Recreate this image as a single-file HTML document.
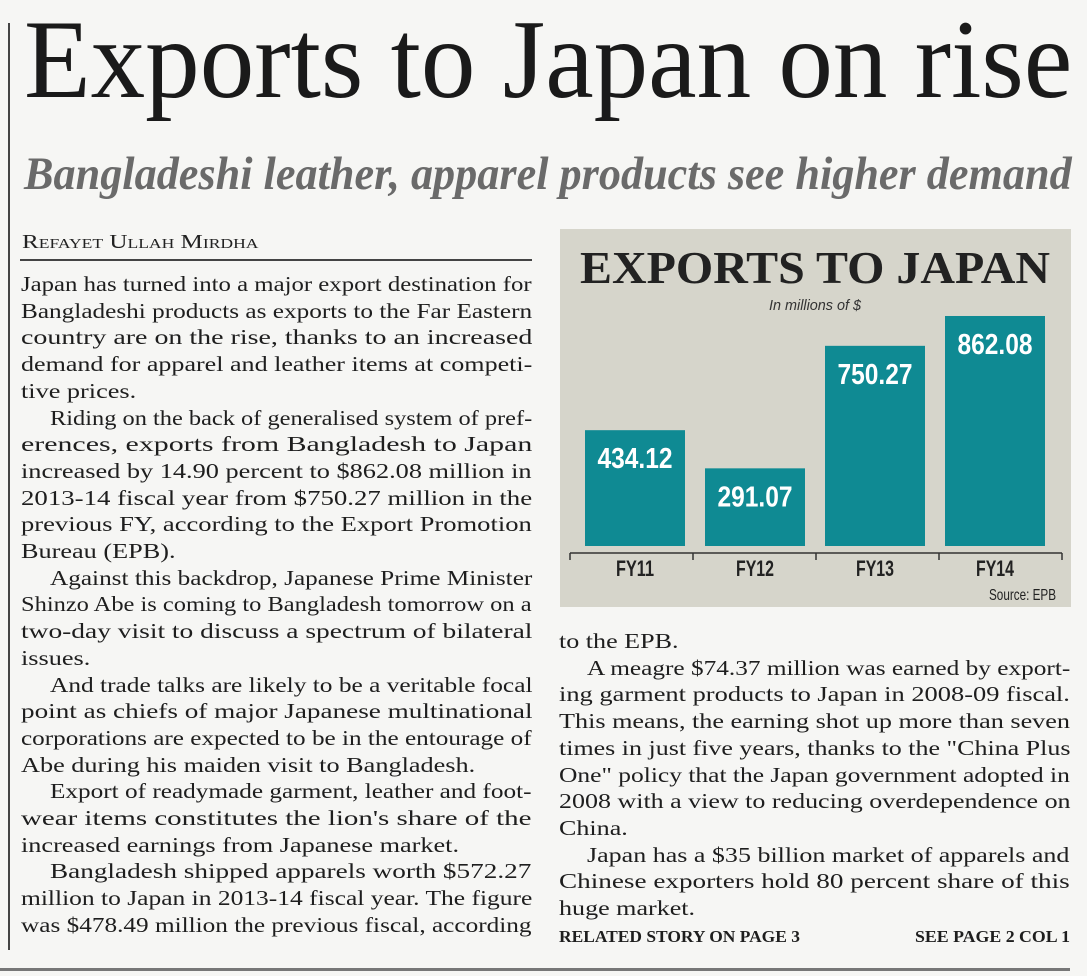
<!DOCTYPE html>
<html><head><meta charset="utf-8">
<style>
html,body{margin:0;padding:0;}
body{width:1087px;height:976px;position:relative;background:#f6f6f4;overflow:hidden;font-family:"Liberation Serif",serif;color:#1e1e1e;}
.abs{position:absolute;white-space:nowrap;transform-origin:0 0;}
.ln{position:absolute;white-space:nowrap;transform-origin:0 0;font-size:21px;line-height:26px;}
</style></head>
<body>
<div class="abs" style="left:8px;top:23px;width:1.5px;height:927px;background:#444"></div>
<div class="abs" style="left:0;top:968px;width:1070px;height:3px;background:#777"></div>

<div class="abs fit" data-w="1048" style="left:24px;top:0px;font-size:112px;line-height:120px;color:#1a1a1a">Exports to Japan on rise</div>
<div class="abs fit" data-w="1048" style="left:24px;top:147px;font-size:47px;line-height:54px;font-style:italic;font-weight:bold;color:#6a6a6a">Bangladeshi leather, apparel products see higher demand</div>
<div class="abs fit" data-w="237" style="left:22px;top:231px;font-size:20px;line-height:22px;font-variant:small-caps;color:#222">Refayet Ullah Mirdha</div>
<div class="abs" style="left:20px;top:259px;width:512px;height:2px;background:#444"></div>

<div id="left"></div>
<div id="right"></div>

<div class="abs fit" data-w="241" style="left:559px;top:927px;font-size:17px;font-weight:bold;line-height:20px">RELATED STORY ON PAGE 3</div>
<div class="abs fit" data-w="155" style="left:915px;top:927px;font-size:17px;font-weight:bold;line-height:20px">SEE PAGE 2 COL 1</div>

<div class="abs" style="left:560px;top:229px;width:511px;height:378px;background:#d6d5cb">
<svg id="chart" width="511" height="378" style="position:absolute;left:0;top:0"></svg>
</div>

<script>
const categories=["FY11","FY12","FY13","FY14"];
const values=[434.12,291.07,750.27,862.08];
const valueLabels=["434.12","291.07","750.27","862.08"];

const left=[
["Japan has turned into a major export destination for",1,0],
["Bangladeshi products as exports to the Far Eastern",1,0],
["country are on the rise, thanks to an increased",1,0],
["demand for apparel and leather items at competi-",1,0],
["tive prices.",0,0],
["Riding on the back of generalised system of pref-",1,1],
["erences, exports from Bangladesh to Japan",1,0],
["increased by 14.90 percent to $862.08 million in",1,0],
["2013-14 fiscal year from $750.27 million in the",1,0],
["previous FY, according to the Export Promotion",1,0],
["Bureau (EPB).",0,0],
["Against this backdrop, Japanese Prime Minister",1,1],
["Shinzo Abe is coming to Bangladesh tomorrow on a",1,0],
["two-day visit to discuss a spectrum of bilateral",1,0],
["issues.",0,0],
["And trade talks are likely to be a veritable focal",1,1],
["point as chiefs of major Japanese multinational",1,0],
["corporations are expected to be in the entourage of",1,0],
["Abe during his maiden visit to Bangladesh.",0,0],
["Export of readymade garment, leather and foot-",1,1],
["wear items constitutes the lion's share of the",1,0],
["increased earnings from Japanese market.",0,0],
["Bangladesh shipped apparels worth $572.27",1,1],
["million to Japan in 2013-14 fiscal year. The figure",1,0],
["was $478.49 million the previous fiscal, according",1,0]];
const right=[
["to the EPB.",0,0],
["A meagre $74.37 million was earned by export-",1,1],
["ing garment products to Japan in 2008-09 fiscal.",1,0],
["This means, the earning shot up more than seven",1,0],
["times in just five years, thanks to the \"China Plus",1,0],
["One\" policy that the Japan government adopted in",1,0],
["2008 with a view to reducing overdependence on",1,0],
["China.",0,0],
["Japan has a $35 billion market of apparels and",1,1],
["Chinese exporters hold 80 percent share of this",1,0],
["huge market.",0,0]];

function col(id,lines,x0,x1,indent,y0){
  const c=document.getElementById(id);const els=[];let sum=0,n=0;
  lines.forEach((l,i)=>{
    const d=document.createElement('div');d.className='ln';
    
    
    d.textContent=l[0];
    const x=x0+(l[2]?indent:0);
    d.style.left=x+'px';d.style.top=(y0+i*26.7-14)+'px';
    c.appendChild(d);els.push([d,l,x1-x]);
  });
  els.forEach(([d,l,w])=>{if(l[1]){const s=w/d.scrollWidth;sum+=s;n++;}});
  const avg=n?sum/n:0.9;
  els.forEach(([d,l,w])=>{const s=l[1]?w/d.scrollWidth:avg;d.style.transform='scaleX('+s+')';});
}
col('left',left,21,532,29,285);
col('right',right,559,1070,28,642);

document.querySelectorAll('.fit').forEach(e=>{const s=(+e.dataset.w)/e.scrollWidth;e.style.transform='scaleX('+s+')';});

// chart
const NS="http://www.w3.org/2000/svg";
const svg=document.getElementById('chart');
const baseY=317, pxPerUnit=0.2668, x0=25, slot=120, bw=100;
const SANS='Liberation Sans, sans-serif';
function yPos(v){return baseY-v*pxPerUnit;}
function xPos(i){return x0+i*slot;}
function mk(t,a,name){const e=document.createElementNS(NS,t);for(const k in a)e.setAttribute(k,a[k]);
  
  
  svg.appendChild(e);return e;}
const title=mk('text',{x:255,y:54,'text-anchor':'middle','font-family':'Liberation Serif, serif','font-weight':'bold','font-size':46,fill:'#222',textLength:470,lengthAdjust:'spacingAndGlyphs'},'chart-title');
title.textContent='EXPORTS TO JAPAN';
const sub=mk('text',{x:255,y:81,'text-anchor':'middle','font-family':SANS,'font-style':'italic','font-size':15,fill:'#333',textLength:92,lengthAdjust:'spacingAndGlyphs'},'chart-subtitle');
sub.textContent='In millions of $';
values.forEach((v,i)=>{
  mk('rect',{x:xPos(i),y:yPos(v),width:bw,height:v*pxPerUnit,fill:'#0f8a93'},'bar-'+categories[i].toLowerCase());
  const t=mk('text',{x:xPos(i)+bw/2,y:yPos(v)+38,'text-anchor':'middle','font-family':SANS,'font-weight':'bold','font-size':29,fill:'#fff',textLength:75,lengthAdjust:'spacingAndGlyphs'},'value-label');
  t.textContent=valueLabels[i];
  const c=mk('text',{x:xPos(i)+bw/2,y:347,'text-anchor':'middle','font-family':SANS,'font-weight':'bold','font-size':22,fill:'#222',textLength:38,lengthAdjust:'spacingAndGlyphs'},'x-tick-label');
  c.textContent=categories[i];
});
mk('line',{x1:10,x2:502,y1:324,y2:324,stroke:'#333','stroke-width':1.5},'x-axis');
for(let i=0;i<=categories.length;i++){
  const tx=10+i*123;
  mk('line',{x1:tx,x2:tx,y1:324,y2:331,stroke:'#333','stroke-width':1.5},'x-tick');
}
const src=mk('text',{x:496,y:371,'text-anchor':'end','font-family':SANS,'font-size':16,fill:'#222',textLength:67,lengthAdjust:'spacingAndGlyphs'},'source-note');
src.textContent='Source: EPB';
</script>
</body></html>
